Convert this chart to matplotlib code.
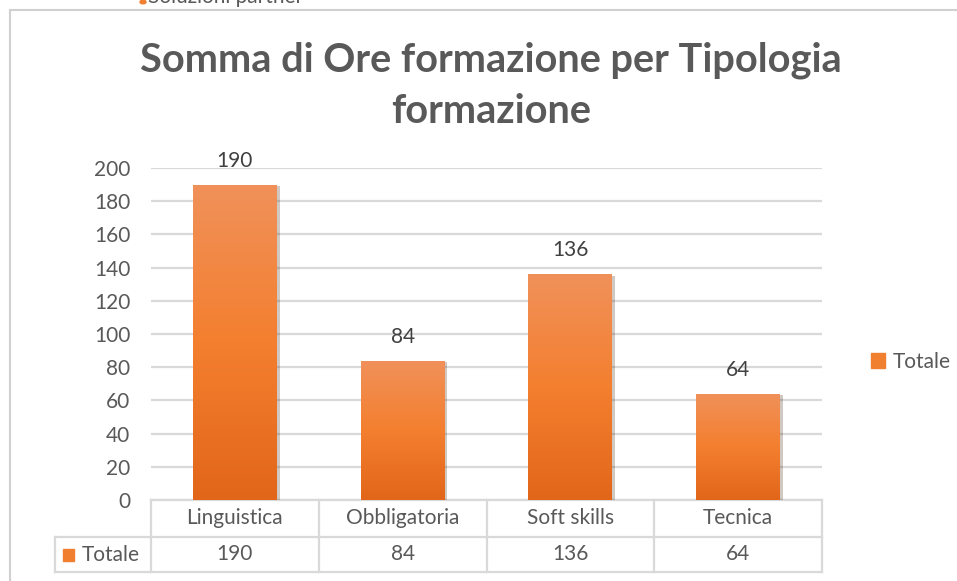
import numpy as np
import matplotlib
matplotlib.use("Agg")
import matplotlib.pyplot as plt
from matplotlib.colors import LinearSegmentedColormap
from matplotlib.lines import Line2D
from matplotlib.patches import Patch
import matplotlib.patheffects as pe

plt.rcParams['font.family'] = ['Lato', 'DejaVu Sans']

# dati
categorie = ['Linguistica', 'Obbligatoria', 'Soft skills', 'Tecnica']
totale = [190, 84, 136, 64]
serie = 'Totale'
titolo = 'Somma di Ore formazione per Tipologia\nformazione'
y_ticks = [0, 20, 40, 60, 80, 100, 120, 140, 160, 180, 200]

W, H = 957, 581
fig = plt.figure(figsize=(W / 100, H / 100), dpi=100)
fig.patch.set_facecolor('white')

def fx(px):
    return px / W

def fy(py):
    return 1 - py / H

ax = fig.add_axes([fx(151), fy(500), fx(822) - fx(151), fy(168) - fy(500)])

grigio_testo = '#595959'
grigio_linea = '#D9D9D9'
arancio = '#F07F2F'
cmap = LinearSegmentedColormap.from_list('grad', ['#E2661A', '#F47F2F', '#F0915A'])
fs = 15

x = np.arange(len(categorie))
bars = ax.bar(x, totale, width=0.5, color='#EE7A2A', zorder=3,
              path_effects=[pe.SimplePatchShadow(offset=(2, -1), alpha=0.25), pe.Normal()])

# gradiente dentro le barre
grad = np.linspace(0, 1, 256).reshape(-1, 1)
for b in bars:
    x0, y0 = b.get_x(), b.get_y()
    w, h = b.get_width(), b.get_height()
    im = ax.imshow(grad, cmap=cmap, origin='lower', aspect='auto',
                   extent=[x0, x0 + w, y0, y0 + h], zorder=4)
    im.set_clip_path(b)

for xi, v in zip(x, totale):
    ax.annotate(str(v), (xi, v), xytext=(0, 10), textcoords='offset points',
                ha='center', va='bottom', fontsize=fs, color='#404040', zorder=5)

ax.set_xlim(-0.5, len(categorie) - 0.5)
ax.set_ylim(0, 200)
ax.set_yticks(y_ticks)
ax.set_yticklabels([str(t) for t in y_ticks], fontsize=fs, color=grigio_testo)
ax.tick_params(axis='y', length=0, pad=15)
ax.set_xticks([])
ax.grid(axis='y', color=grigio_linea, linewidth=1.6, zorder=0)
for s in ax.spines.values():
    s.set_visible(False)

# tabella dati sotto il grafico
r1 = -37 / 332
r2 = -72 / 332
left_tab = -96 / 671
n = len(categorie)
lkw = dict(color=grigio_linea, linewidth=1.6, transform=ax.transAxes, clip_on=False)
ax.add_line(Line2D([0, 1], [0, 0], **lkw))
ax.add_line(Line2D([left_tab, 1], [r1, r1], **lkw))
ax.add_line(Line2D([left_tab, 1], [r2, r2], **lkw))
ax.add_line(Line2D([left_tab, left_tab], [r1, r2], **lkw))
for i in range(n + 1):
    ax.add_line(Line2D([i / n, i / n], [0, r2], **lkw))

for i, (c, v) in enumerate(zip(categorie, totale)):
    xc = (i + 0.5) / n
    ax.text(xc, r1 / 2, c, transform=ax.transAxes, ha='center', va='center',
            fontsize=fs, color=grigio_testo)
    ax.text(xc, (r1 + r2) / 2, str(v), transform=ax.transAxes, ha='center',
            va='center', fontsize=fs, color=grigio_testo)

fig.patches.append(plt.Rectangle((fx(63), fy(561)), fx(11), fy(549) - fy(561),
                                 transform=fig.transFigure, color=arancio))
fig.text(fx(82), fy(555), serie, ha='left', va='center', fontsize=fs, color=grigio_testo)

# legenda
fig.legend(handles=[Patch(color=arancio)], labels=[serie], loc='center left',
           bbox_to_anchor=(fx(852), fy(362)), frameon=False, fontsize=fs,
           handlelength=0.7, handleheight=0.7, handletextpad=0.35,
           labelcolor=grigio_testo)

# titolo
fig.text(fx(491), fy(86), titolo, ha='center', va='center', fontsize=28.6,
         fontweight='bold', color=grigio_testo, linespacing=1.48)

# cornice del grafico
fig.add_artist(Line2D([fx(10), fx(10)], [fy(10), 0], color='#D0D0D0', linewidth=1.5))
fig.add_artist(Line2D([fx(10), 1], [fy(10), fy(10)], color='#D0D0D0', linewidth=1.5))

# testo tagliato in alto (come nello screenshot)
fig.text(fx(148), fy(-3), 'Soluzioni partner', ha='left', va='center', fontsize=15,
         color=grigio_testo)
fig.patches.append(plt.Circle((fx(143), fy(2)), fx(3), transform=fig.transFigure,
                              color=arancio))

fig.savefig('out.png', dpi=100)
